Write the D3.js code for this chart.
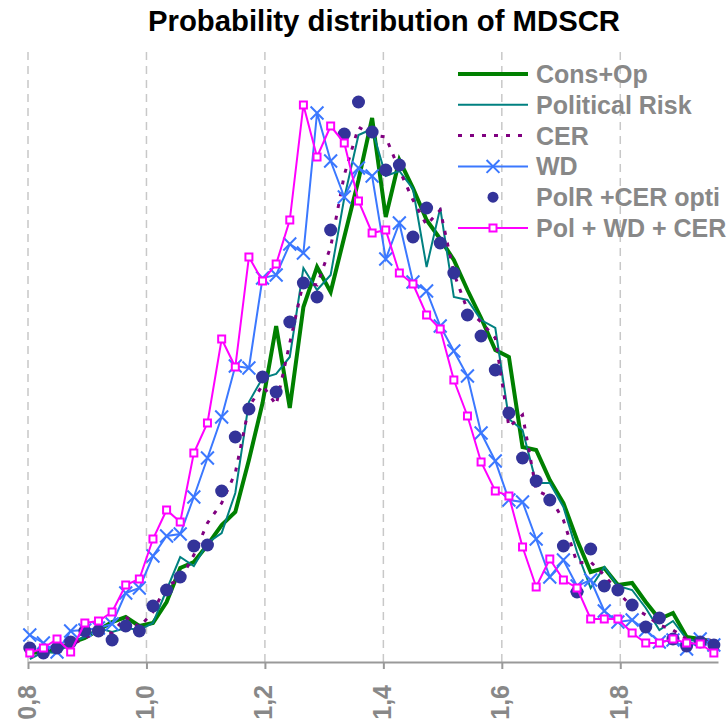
<!DOCTYPE html>
<html>
<head>
<meta charset="utf-8">
<script src="https://cdn.jsdelivr.net/npm/d3@7"></script>
<style>
  body { margin: 0; background: #fff; }
  svg { display: block; font-family: "Liberation Sans", Arial, sans-serif; }
</style>
</head>
<body>
<div id="chart"></div>
<script>
// bin centres of MDSCR
var bins = [0.803, 0.826, 0.849, 0.872, 0.896, 0.919, 0.942, 0.965, 0.988, 1.011,
            1.034, 1.057, 1.080, 1.103, 1.127, 1.150, 1.173, 1.196, 1.219, 1.242,
            1.265, 1.288, 1.311, 1.334, 1.358, 1.381, 1.404, 1.427, 1.450, 1.473,
            1.496, 1.519, 1.542, 1.565, 1.589, 1.612, 1.635, 1.658, 1.681, 1.704,
            1.727, 1.750, 1.773, 1.796, 1.820, 1.843, 1.866, 1.889, 1.912, 1.935, 1.958];

// probability (%) per bin
var consOp = [0.09,0.10,0.12,0.19,0.24,0.32,0.40,0.45,0.36,0.39,0.60,0.94,1.00,1.17,1.37,1.50,2.02,2.59,3.36,2.54,
              3.55,3.95,3.70,4.25,4.82,5.44,4.45,5.02,4.74,4.42,4.23,4.02,3.72,3.44,3.12,3.05,2.15,2.12,1.82,1.59,
              1.22,0.90,0.94,0.77,0.79,0.60,0.43,0.49,0.25,0.23,0.20];
var politicalRisk = [0.03,0.10,0.09,0.19,0.25,0.34,0.30,0.34,0.32,0.39,0.72,1.05,0.96,1.19,1.29,1.69,2.60,2.84,2.88,3.05,
              3.94,3.72,3.87,4.64,5.27,5.33,4.86,4.91,4.73,3.95,4.54,3.65,3.62,3.42,3.34,2.43,2.32,1.79,1.79,1.55,
              1.10,0.74,0.95,0.76,0.72,0.54,0.32,0.41,0.23,0.20,0.19];
var cer = [0.06,0.10,0.12,0.17,0.24,0.30,0.29,0.45,0.35,0.50,0.77,0.82,1.07,1.39,1.59,1.89,2.55,2.77,2.57,3.19,
              3.80,3.77,4.15,4.87,5.35,5.27,5.25,4.92,4.62,4.37,4.52,3.89,3.52,3.40,3.24,2.35,2.47,1.72,1.65,1.42,
              0.99,1.00,0.87,0.70,0.55,0.47,0.37,0.32,0.23,0.22,0.22];
var wd = [0.27,0.19,0.10,0.31,0.32,0.34,0.38,0.69,0.74,1.06,1.26,1.28,1.65,2.04,2.45,2.96,2.94,3.84,3.87,4.18,
              4.09,5.49,5.01,4.65,4.94,4.86,4.03,4.39,3.80,3.71,3.36,3.11,2.86,2.29,2.01,1.62,1.60,1.23,0.85,1.02,
              0.76,0.82,0.51,0.40,0.42,0.32,0.20,0.22,0.13,0.23,0.17];
var polirCer = [0.14,0.09,0.14,0.20,0.31,0.31,0.22,0.36,0.31,0.56,0.72,0.85,1.16,1.17,1.71,2.25,2.53,2.85,2.70,3.40,
              3.79,3.65,4.32,5.28,5.60,5.30,4.92,4.97,4.25,4.54,4.19,3.89,3.47,3.26,2.92,2.49,2.04,1.81,1.62,1.16,
              0.70,1.13,0.76,0.72,0.57,0.35,0.44,0.23,0.16,0.20,0.17];
var polWdCer = [0.09,0.14,0.23,0.10,0.39,0.41,0.50,0.77,0.83,1.23,1.52,1.40,2.09,2.39,3.23,2.95,4.05,3.81,3.98,4.42,
              5.57,5.05,5.36,5.19,4.61,4.29,4.32,3.89,3.78,3.47,3.33,2.82,2.46,2.00,1.71,1.66,1.15,0.75,1.03,0.82,
              0.74,0.43,0.43,0.43,0.29,0.19,0.19,0.23,0.19,0.18,0.09];

var xTicks = [0.8, 1.0, 1.2, 1.4, 1.6, 1.8];
var legendLabels = ["Cons+Op", "Political Risk", "CER", "WD", "PolR +CER opti", "Pol + WD + CER"];

var width = 728, height = 726;
var plot = {left: 28, right: 718, top: 52, bottom: 662};

var svg = d3.select("#chart")
    .append("svg")
        .attr("width", width)
        .attr("height", height);

var x = d3.scaleLinear()
    .domain([0.8, 1.965])
    .range([plot.left, plot.right]);

var y = d3.scaleLinear()
    .domain([0, 6.1])
    .range([plot.bottom, plot.top]);

// title
svg.append("text")
    .attr("x", 384)
    .attr("y", 31)
    .attr("text-anchor", "middle")
    .attr("textLength", 472)
    .attr("lengthAdjust", "spacingAndGlyphs")
    .style("font-size", "30px")
    .style("font-weight", "bold")
    .style("fill", "#000")
    .text("Probability distribution of MDSCR");

// dashed vertical grid
svg.append("g")
    .selectAll("line")
    .data(xTicks)
    .enter()
    .append("line")
        .attr("x1", d => x(d))
        .attr("x2", d => x(d))
        .attr("y1", y(6.1))
        .attr("y2", y(0))
        .style("stroke", "#c8c8c8")
        .style("stroke-width", 1.5)
        .style("stroke-dasharray", "8,6");

// x axis
var xAxis = svg.append("g")
    .attr("transform", "translate(0," + plot.bottom + ")")
    .call(d3.axisBottom(x)
        .tickValues(xTicks)
        .tickSize(7)
        .tickSizeOuter(0)
        .tickFormat(d => d3.format(".1f")(d).replace(".", ",")));

xAxis.select(".domain")
    .style("stroke", "#999")
    .style("stroke-width", 2);
xAxis.selectAll(".tick line")
    .style("stroke", "#999")
    .style("stroke-width", 2);
xAxis.selectAll(".tick text")
    .attr("x", 0)
    .attr("y", 0)
    .attr("dy", 0)
    .attr("transform", "translate(7,23) rotate(-90)")
    .attr("text-anchor", "end")
    .style("font-family", "Liberation Sans, Arial, sans-serif")
    .style("font-size", "25px")
    .style("font-weight", "bold")
    .style("fill", "#888");

var line = d3.line()
    .x((d, i) => x(bins[i]))
    .y(d => y(d));

// Cons+Op
svg.append("path")
    .datum(consOp)
    .attr("d", line)
    .style("fill", "none")
    .style("stroke", "#008000")
    .style("stroke-width", 4)
    .style("stroke-linejoin", "miter");

// Political Risk
svg.append("path")
    .datum(politicalRisk)
    .attr("d", line)
    .style("fill", "none")
    .style("stroke", "#008080")
    .style("stroke-width", 2);

// CER
svg.append("path")
    .datum(cer)
    .attr("d", line)
    .style("fill", "none")
    .style("stroke", "#800080")
    .style("stroke-width", 3)
    .style("stroke-dasharray", "4,8");

// WD with crosses
svg.append("path")
    .datum(wd)
    .attr("d", line)
    .style("fill", "none")
    .style("stroke", "#3b78ff")
    .style("stroke-width", 2);

var cross = d3.symbol().type(d3.symbolX).size(110);
svg.append("g")
    .selectAll("path")
    .data(wd)
    .enter()
    .append("path")
        .attr("d", cross)
        .attr("transform", (d, i) => "translate(" + x(bins[i]) + "," + y(d) + ")")
        .style("fill", "none")
        .style("stroke", "#3b78ff")
        .style("stroke-width", 2);

// PolR + CER optimal, dots only
svg.append("g")
    .selectAll("circle")
    .data(polirCer)
    .enter()
    .append("circle")
        .attr("cx", (d, i) => x(bins[i]))
        .attr("cy", d => y(d))
        .attr("r", 6.5)
        .style("fill", "#333399");

// Pol + WD + CER with squares
svg.append("path")
    .datum(polWdCer)
    .attr("d", line)
    .style("fill", "none")
    .style("stroke", "#ff00ff")
    .style("stroke-width", 2);

svg.append("g")
    .selectAll("rect")
    .data(polWdCer)
    .enter()
    .append("rect")
        .attr("x", (d, i) => x(bins[i]) - 3.5)
        .attr("y", d => y(d) - 3.5)
        .attr("width", 7)
        .attr("height", 7)
        .style("fill", "#fff")
        .style("stroke", "#ff00ff")
        .style("stroke-width", 2);

// legend
var legend = svg.append("g")
    .attr("transform", "translate(458,74)");

var rows = legend.selectAll("g")
    .data(legendLabels)
    .enter()
    .append("g")
        .attr("transform", (d, i) => "translate(0," + (i * 30.8) + ")");

rows.append("text")
    .attr("x", 78)
    .attr("y", 9)
    .style("font-size", "25px")
    .style("font-weight", "bold")
    .style("fill", "#888")
    .text(d => d);

var lineStyles = [
    {color: "#008000", w: 4, dash: null},
    {color: "#008080", w: 2, dash: null},
    {color: "#800080", w: 3, dash: "4,8"},
    {color: "#3b78ff", w: 2, dash: null},
    null,
    {color: "#ff00ff", w: 2, dash: null}
];

rows.filter((d, i) => lineStyles[i] != null)
    .append("line")
        .attr("x1", 0)
        .attr("x2", 70)
        .attr("y1", 0)
        .attr("y2", 0)
        .style("stroke", d => lineStyles[legendLabels.indexOf(d)].color)
        .style("stroke-width", d => lineStyles[legendLabels.indexOf(d)].w)
        .style("stroke-dasharray", d => lineStyles[legendLabels.indexOf(d)].dash);

rows.filter((d, i) => i == 3)
    .append("path")
        .attr("d", cross)
        .attr("transform", "translate(35,0)")
        .style("fill", "none")
        .style("stroke", "#3b78ff")
        .style("stroke-width", 2);

rows.filter((d, i) => i == 4)
    .append("circle")
        .attr("cx", 35)
        .attr("cy", 0)
        .attr("r", 5.5)
        .style("fill", "#333399");

rows.filter((d, i) => i == 5)
    .append("rect")
        .attr("x", 31.5)
        .attr("y", -3.5)
        .attr("width", 7)
        .attr("height", 7)
        .style("fill", "#fff")
        .style("stroke", "#ff00ff")
        .style("stroke-width", 2);
</script>
</body>
</html>
